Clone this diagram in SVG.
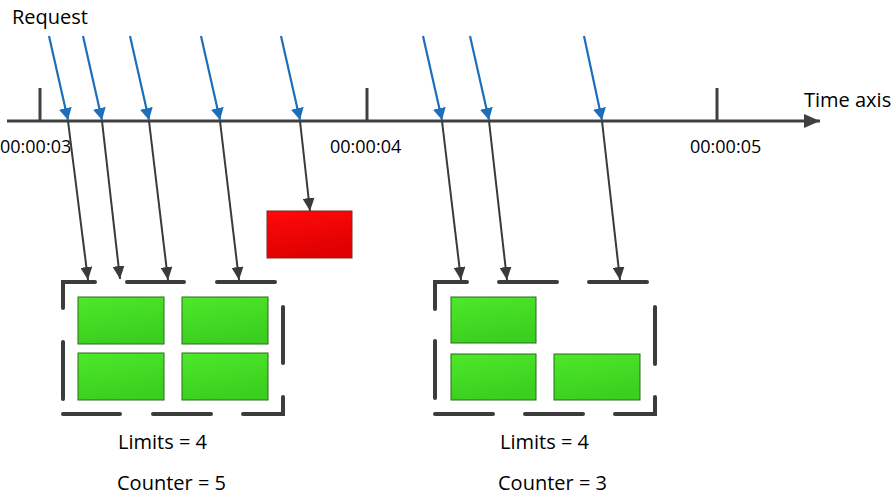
<svg xmlns="http://www.w3.org/2000/svg" width="892" height="497" viewBox="0 0 892 497">
<style>
  .lbl { font-family: "Open Sans", "Liberation Sans", sans-serif; fill: #000; }
  .big { font-size: 20px; }
  .ts { font-size: 18px; }
  .axis { stroke: #404040; stroke-width: 3; fill: none; }
  .tick { stroke: #404040; stroke-width: 3; }
  .req { stroke: #1c6fb8; stroke-width: 2.2; fill: none; marker-end: url(#blueArrow); }
  .flow { stroke: #3a3a3a; stroke-width: 2; fill: none; marker-end: url(#darkArrow); }
  .frame { stroke: #3c3c3c; stroke-width: 4; fill: none; stroke-linecap: round; stroke-linejoin: miter; }
  .ok { fill: url(#greenGrad); stroke: #2b6a1e; stroke-width: 1; }
  .rej { fill: url(#redGrad); stroke: #7a2a2a; stroke-width: 1; }
</style>
<defs>
  <linearGradient id="greenGrad" x1="0" y1="0" x2="0.3" y2="1">
    <stop offset="0" stop-color="#4ee82a"/>
    <stop offset="1" stop-color="#3bcf1f"/>
  </linearGradient>
  <linearGradient id="redGrad" x1="0" y1="0" x2="0.3" y2="1">
    <stop offset="0" stop-color="#ff0a0a"/>
    <stop offset="1" stop-color="#e00000"/>
  </linearGradient>
  <marker id="blueArrow" markerUnits="userSpaceOnUse" markerWidth="12" markerHeight="13" viewBox="0 0 12 13" refX="12" refY="6.5" orient="auto">
    <path d="M0,0 L12,6.5 L0,13 Z" fill="#1c6fb8"/>
  </marker>
  <marker id="darkArrow" markerUnits="userSpaceOnUse" markerWidth="13" markerHeight="12" viewBox="0 0 13 12" refX="13" refY="6" orient="auto">
    <path d="M0,0 L13,6 L0,12 Z" fill="#3a3a3a"/>
  </marker>
  <marker id="axisArrow" markerUnits="userSpaceOnUse" markerWidth="16" markerHeight="14" viewBox="0 0 16 14" refX="16" refY="7" orient="auto">
    <path d="M0,0 L16,7 L0,14 Z" fill="#404040"/>
  </marker>
</defs>

<g id="timeline">
  <line class="axis" x1="7" y1="121" x2="820" y2="121" marker-end="url(#axisArrow)"/>
  <line class="tick" x1="40" y1="88" x2="40" y2="121"/>
  <line class="tick" x1="367" y1="88" x2="367" y2="121"/>
  <line class="tick" x1="717" y1="88" x2="717" y2="121"/>
  <text class="lbl big" x="12" y="24">Request</text>
  <text class="lbl big" x="804" y="107">Time axis</text>
  <text class="lbl ts" x="0" y="153">00:00:03</text>
  <text class="lbl ts" x="330" y="153">00:00:04</text>
  <text class="lbl ts" x="690" y="153">00:00:05</text>
</g>

<g id="connectors">
  <line class="req" x1="49" y1="36" x2="68" y2="120"/>
  <line class="req" x1="83" y1="36" x2="102" y2="120"/>
  <line class="req" x1="130" y1="36" x2="149" y2="120"/>
  <line class="req" x1="201" y1="36" x2="220" y2="120"/>
  <line class="req" x1="281" y1="36" x2="300" y2="120"/>
  <line class="req" x1="423" y1="36" x2="442" y2="120"/>
  <line class="req" x1="470" y1="36" x2="489" y2="120"/>
  <line class="req" x1="584" y1="36" x2="602" y2="120"/>

  <line class="flow" x1="68" y1="121" x2="88" y2="280"/>
  <line class="flow" x1="102" y1="121" x2="120" y2="279"/>
  <line class="flow" x1="149" y1="121" x2="168" y2="280"/>
  <line class="flow" x1="220" y1="121" x2="239" y2="280"/>
  <line class="flow" x1="300" y1="121" x2="310" y2="211"/>
  <line class="flow" x1="442" y1="121" x2="461" y2="280"/>
  <line class="flow" x1="489" y1="121" x2="507" y2="280"/>
  <line class="flow" x1="602" y1="121" x2="620" y2="280"/>
</g>

<g id="window1">
  <path class="frame" d="M63,308 L63,282 L95,282"/>
  <line class="frame" x1="127" y1="282" x2="184" y2="282"/>
  <line class="frame" x1="217" y1="282" x2="275" y2="282"/>
  <line class="frame" x1="63" y1="342" x2="63" y2="399"/>
  <line class="frame" x1="63" y1="414" x2="120" y2="414"/>
  <line class="frame" x1="153" y1="414" x2="211" y2="414"/>
  <path class="frame" d="M243,414 L283,414 L283,397"/>
  <line class="frame" x1="283" y1="307" x2="283" y2="363"/>
  <rect class="ok" x="78" y="297" width="86" height="47"/>
  <rect class="ok" x="182" y="297" width="86" height="47"/>
  <rect class="ok" x="78" y="353" width="86" height="47"/>
  <rect class="ok" x="182" y="353" width="86" height="47"/>
  <text class="lbl big" x="118" y="449">Limits = 4</text>
  <text class="lbl big" x="117" y="490">Counter = 5</text>
</g>

<g id="rejected">
  <rect class="rej" x="267" y="211" width="85" height="47"/>
</g>

<g id="window2">
  <path class="frame" d="M435,309 L435,282 L467,282"/>
  <line class="frame" x1="499" y1="282" x2="557" y2="282"/>
  <line class="frame" x1="589" y1="282" x2="647" y2="282"/>
  <line class="frame" x1="435" y1="341" x2="435" y2="398"/>
  <line class="frame" x1="435" y1="414" x2="493" y2="414"/>
  <line class="frame" x1="525" y1="414" x2="583" y2="414"/>
  <path class="frame" d="M615,414 L655,414 L655,397"/>
  <line class="frame" x1="655" y1="307" x2="655" y2="364"/>
  <rect class="ok" x="451" y="297" width="85" height="46"/>
  <rect class="ok" x="451" y="354" width="85" height="46"/>
  <rect class="ok" x="554" y="354" width="86" height="46"/>
  <text class="lbl big" x="500" y="449">Limits = 4</text>
  <text class="lbl big" x="498" y="490">Counter = 3</text>
</g>
</svg>
